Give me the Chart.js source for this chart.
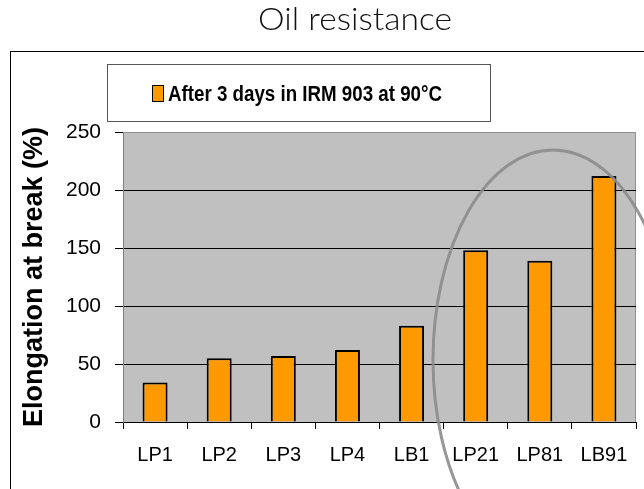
<!DOCTYPE html>
<html>
<head>
<meta charset="utf-8">
<script src="https://cdn.jsdelivr.net/npm/chart.js@4.4.1/dist/chart.umd.min.js"></script>
<style>
  html, body { margin: 0; padding: 0; background: #fff; overflow: hidden; }
</style>
</head>
<body>
<canvas id="c" width="644" height="489"></canvas>
<script>
// data
const samples = ['LP1', 'LP2', 'LP3', 'LP4', 'LB1', 'LP21', 'LP81', 'LB91'];
const elongation = [34, 55, 57, 62, 83, 148, 139, 212];
const seriesName = 'After 3 days in IRM 903 at 90°C';
const chartTitle = 'Oil resistance';
const axisTitle = 'Elongation at break (%)';

const FONT = '"Liberation Sans", Arial, sans-serif';

// draw text squeezed/stretched to a given width
function fitText(ctx, text, font, x, y, w) {
  ctx.save();
  ctx.font = font;
  const m = ctx.measureText(text).width;
  ctx.translate(x, y);
  ctx.scale(w / m, 1);
  ctx.textBaseline = 'alphabetic';
  ctx.textAlign = 'left';
  ctx.fillText(text, 0, 0);
  ctx.restore();
}

const decor = {
  id: 'decor',
  beforeDraw(chart) {
    const ctx = chart.ctx, a = chart.chartArea;
    ctx.save();
    ctx.fillStyle = '#fff';
    ctx.fillRect(0, 0, chart.width, chart.height);

    // outer frame of the chart object
    ctx.strokeStyle = '#000';
    ctx.lineWidth = 1;
    ctx.strokeRect(10.5, 51.5, 700, 500);

    // grey plot area
    ctx.fillStyle = '#C0C0C0';
    ctx.fillRect(a.left, a.top, a.right - a.left, a.bottom - a.top);
    ctx.strokeStyle = '#909090';
    ctx.strokeRect(a.left + 0.5, a.top + 0.5, a.right - a.left - 1, a.bottom - a.top);

    // slide title
    ctx.fillStyle = '#111';
    fitText(ctx, chartTitle, '300 32px Lato, "DejaVu Sans", sans-serif', 258, 30, 194);

    // legend box
    ctx.strokeStyle = '#555';
    ctx.strokeRect(107.5, 64.5, 383, 57);
    const ds = chart.data.datasets[0];
    ctx.fillStyle = ds.backgroundColor;
    ctx.fillRect(152, 85, 12, 17);
    ctx.strokeStyle = '#000';
    ctx.strokeRect(152.5, 85.5, 11, 16);
    ctx.fillStyle = '#000';
    fitText(ctx, ds.label, 'bold 22px ' + FONT, 168, 101, 274);
    ctx.restore();
  },
  afterDraw(chart) {
    // highlight ellipse round the last three samples
    const ctx = chart.ctx;
    ctx.save();
    ctx.strokeStyle = 'rgba(140,140,140,0.9)';
    ctx.lineWidth = 3;
    ctx.beginPath();
    ctx.ellipse(553, 360, 120, 210, 0, 0, Math.PI * 2);
    ctx.stroke();
    ctx.restore();
  }
};

new Chart(document.getElementById('c'), {
  type: 'bar',
  data: {
    labels: samples,
    datasets: [{
      label: seriesName,
      data: elongation,
      backgroundColor: '#FF9900',
      borderColor: '#000',
      borderWidth: 2,
      barPercentage: 0.39,
      categoryPercentage: 1
    }]
  },
  options: {
    responsive: false,
    animation: false,
    layout: { padding: { left: 10, top: 132, right: 8, bottom: 0 } },
    plugins: {
      legend: { display: false },
      title: { display: false },
      tooltip: { enabled: false }
    },
    scales: {
      x: {
        grid: { drawOnChartArea: false, drawTicks: true, tickLength: 7, color: '#000' },
        border: { color: '#000', width: 1 },
        ticks: { color: '#000', padding: 14, font: { family: FONT, size: 20 } },
        afterFit(s) { s.height = 67; }
      },
      y: {
        min: 0,
        max: 250,
        ticks: { stepSize: 50, color: '#000', padding: 14, font: { family: FONT, size: 21 } },
        grid: {
          color: (c) => c.tick && c.tick.value === 250 ? '#909090' : '#000',
          tickColor: '#000',
          tickLength: 8,
          lineWidth: 1
        },
        border: { color: '#808080', width: 1 },
        title: {
          display: true,
          text: axisTitle,
          color: '#000',
          padding: { top: 8, bottom: 0 },
          font: { family: FONT, size: 27, weight: 'bold' }
        },
        afterFit(s) { s.width = 113; }
      }
    }
  },
  plugins: [decor]
});
</script>
</body>
</html>
